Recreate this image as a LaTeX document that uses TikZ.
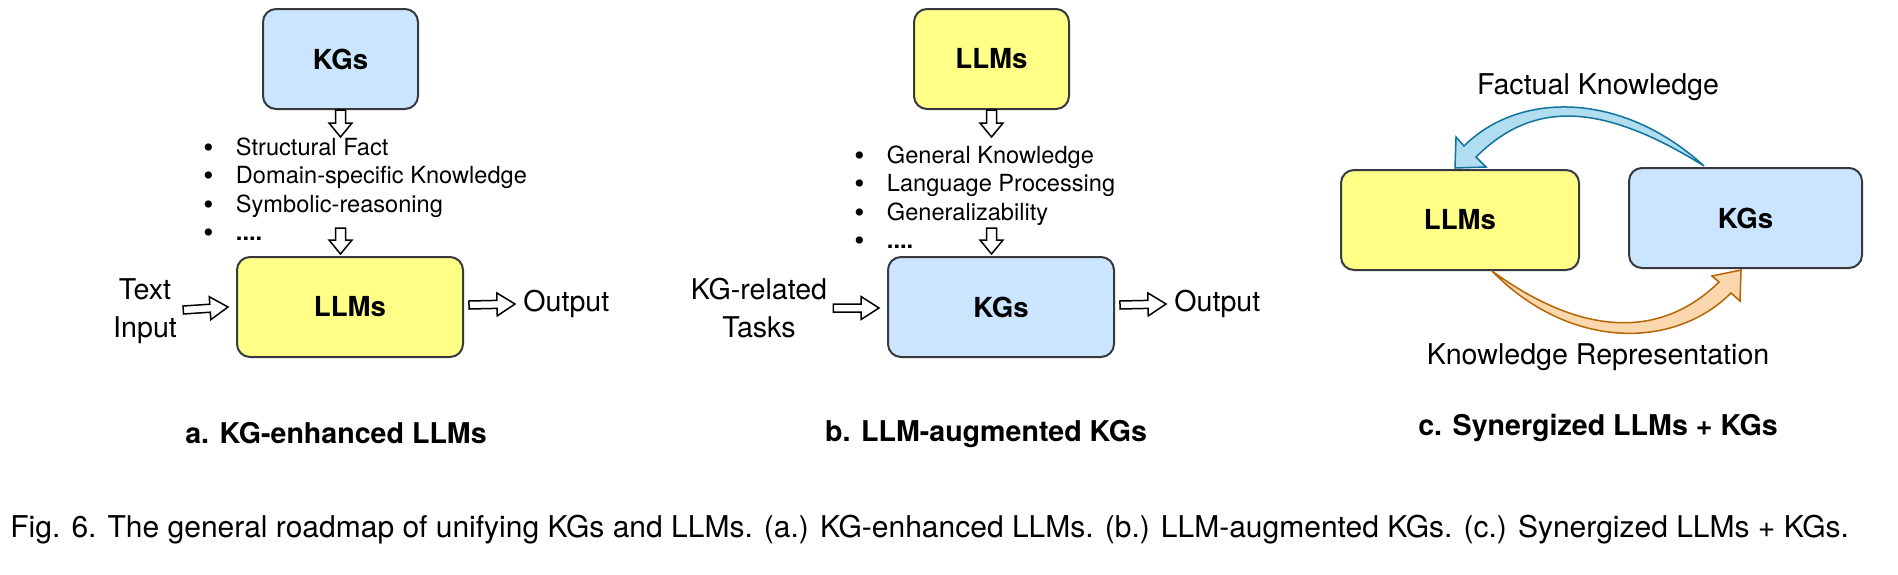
\documentclass[tikz,border=0pt]{standalone}
\usepackage{fontspec}
\setmainfont{TeX Gyre Heros}
\usetikzlibrary{calc}

\definecolor{kgfill}{HTML}{CCE5FF}
\definecolor{llmfill}{HTML}{FFFF88}
\definecolor{boxline}{HTML}{36393D}
\definecolor{factfill}{HTML}{B1DDF0}
\definecolor{factline}{HTML}{10739E}
\definecolor{reprfill}{HTML}{FAD7AC}
\definecolor{reprline}{HTML}{B46504}

% ---- panel offsets and box sizes
\def \panelBShift{651}
\def \boxHeight{50pt}
\def \smallBoxWidth{77.5pt}
\def \wideBoxWidth{113pt}
\newcommand\listdot{\raisebox{-0.8pt}{\fontsize{14.5}{14.25}\selectfont\textbullet}}

\tikzset{
  roundbox/.style={draw=boxline, line width=1pt, rounded corners=6.5pt,
    minimum height=\boxHeight, inner sep=0pt,
    font=\fontsize{13.8}{16.5}\selectfont\bfseries},
  plaintext/.style={inner sep=0pt, align=center, font=\fontsize{14.3}{19}\selectfont},
  listtext/.style={inner sep=0pt, anchor=west, font=\fontsize{11.8}{14.25}\selectfont},
  panelcap/.style={inner sep=0pt, font=\fontsize{14.3}{17}\selectfont\bfseries},
  figcap/.style={inner sep=0pt, anchor=west, font=\fontsize{15.0}{18}\selectfont},
  fatarrow/.style n args={3}{draw=black, fill=white, line width=0.75pt, line join=miter,
    to path={
      ($(\tikztostart)!#1!90:(\tikztotarget)$)
      -- ($(\tikztotarget)!#3!(\tikztostart)!#1!90:(\tikztotarget)$)
      -- ($(\tikztotarget)!#3!(\tikztostart)!#2!90:(\tikztotarget)$)
      -- (\tikztotarget)
      -- ($(\tikztotarget)!#3!(\tikztostart)!#2!-90:(\tikztotarget)$)
      -- ($(\tikztotarget)!#3!(\tikztostart)!#1!-90:(\tikztotarget)$)
      -- ($(\tikztostart)!#1!-90:(\tikztotarget)$)
      -- cycle}},
  fatdown/.style={fatarrow={2.5pt}{5.75pt}{7pt}},
  fatright/.style={fatarrow={2pt}{5.75pt}{9pt}},
  bendarrow/.style={line width=0.75pt, line join=miter},
}

\begin{document}
\begin{tikzpicture}[x=0.5pt, y=-0.5pt]
\path[fill=white] (0,0) rectangle (1898,574);

% ---- a. KG-enhanced LLMs
\node[roundbox, fill=kgfill, minimum width=\smallBoxWidth] (kgA) at (340.5,59) {KGs};
\node[roundbox, fill=llmfill, minimum width=\wideBoxWidth] (llmA) at (350,307) {LLMs};
\node[listtext] (listA) at (203,192.5) {\begin{tabular}{@{}l@{\hspace{11.2pt}}l@{}}
  \listdot & Structural Fact\\
  \listdot & Domain-specific Knowledge\\
  \listdot & Symbolic-reasoning\\
  \listdot & \textbf{....}
\end{tabular}};
\node[plaintext] (inA) at (145,311) {Text\\Input};
\node[plaintext, anchor=west] (outA) at (523,304) {Output};
\node[panelcap] (capA) at (336,433) {a. KG-enhanced LLMs};
\coordinate (listAtop) at (340.5,137);
\coordinate (listAbot) at (340.5,228);

\draw[fatdown] (kgA.south) to (listAtop);
\draw[fatdown] (listAbot) to ($(listAbot |- llmA.north)+(0,-2)$);
\draw[fatright] ($(inA.east)+(6,-1)$) to ($(llmA.west)+(-8,0)$);
\draw[fatright] ($(llmA.east)+(5,-2)$) to ($(outA.west)+(-8,0)$);

% ---- b. LLM-augmented KGs
\node[roundbox, fill=llmfill, minimum width=\smallBoxWidth] (llmB) at (340.5+\panelBShift,59) {LLMs};
\node[roundbox, fill=kgfill, minimum width=\wideBoxWidth] (kgB) at (350+\panelBShift,307) {KGs};
\node[listtext] (listB) at (203+\panelBShift,200.5) {\begin{tabular}{@{}l@{\hspace{11.2pt}}l@{}}
  \listdot & General Knowledge\\
  \listdot & Language Processing\\
  \listdot & Generalizability\\
  \listdot & \textbf{....}
\end{tabular}};
\node[plaintext] (inB) at (759,308) {KG-related\\Tasks};
\node[plaintext, anchor=west] (outB) at (523+\panelBShift,304) {Output};
\node[panelcap] (capB) at (986,434) {b. LLM-augmented KGs};
\coordinate (listBtop) at (340.5+\panelBShift,137);
\coordinate (listBbot) at (340.5+\panelBShift,228);

\draw[fatdown] (llmB.south) to (listBtop);
\draw[fatdown] (listBbot) to ($(listBbot |- kgB.north)+(0,-2)$);
\draw[fatright] ($(inB.east)+(6,0)$) to ($(kgB.west)+(-8,1)$);
\draw[fatright] ($(kgB.east)+(5,-2)$) to ($(outB.west)+(-8,0)$);

% ---- c. Synergized LLMs + KGs
\node[roundbox, fill=llmfill, minimum width=119pt] (llmC) at (1460,220) {LLMs};
\node[roundbox, fill=kgfill, minimum width=116.5pt] (kgC) at (1745.5,218) {KGs};
\node[plaintext] (factC) at (1598,87) {Factual Knowledge};
\node[plaintext] (reprC) at (1598,357) {Knowledge Representation};
\node[panelcap] (capC) at (1598,428) {c. Synergized LLMs + KGs};

% Factual Knowledge: KGs -> LLMs
\coordinate (factTail) at ($(kgC.north west)+(76,-1)$);
\coordinate (factTip) at ($(llmC.north west)+(115,-1)$);
\draw[bendarrow, fill=factfill, draw=factline]
  (factTail) .. controls ($(factTail)+(-82,-75)$) and ($(factTip)+(64,-77)$) .. ($(factTip)+(9,-22)$)
  -- ($(factTip)+(1,-31)$) -- (factTip) -- ($(factTip)+(31,-1)$) -- ($(factTip)+(21,-11)$)
  .. controls ($(factTip)+(77,-67)$) and ($(factTail)+(-104,-65)$) .. (factTail) -- cycle;

% Knowledge Representation: LLMs -> KGs
\coordinate (reprTail) at ($(llmC.south west)+(152,0)$);
\coordinate (reprTip) at ($(kgC.south west)+(113,1)$);
\draw[bendarrow, fill=reprfill, draw=reprline]
  (reprTail) .. controls ($(reprTail)+(77,79)$) and ($(reprTip)+(-67,80)$) .. ($(reprTip)+(-10,23)$)
  -- ($(reprTip)+(-1,31)$) -- (reprTip) -- ($(reprTip)+(-29,6)$) -- ($(reprTip)+(-22,12)$)
  .. controls ($(reprTip)+(-79,68)$) and ($(reprTail)+(92,67)$) .. (reprTail) -- cycle;

% ---- figure caption
\node[figcap] (figcap) at (10,530) {Fig. 6. The general roadmap of unifying KGs and LLMs. (a.) KG-enhanced LLMs. (b.) LLM-augmented KGs. (c.) Synergized LLMs + KGs.};
\end{tikzpicture}
\end{document}
